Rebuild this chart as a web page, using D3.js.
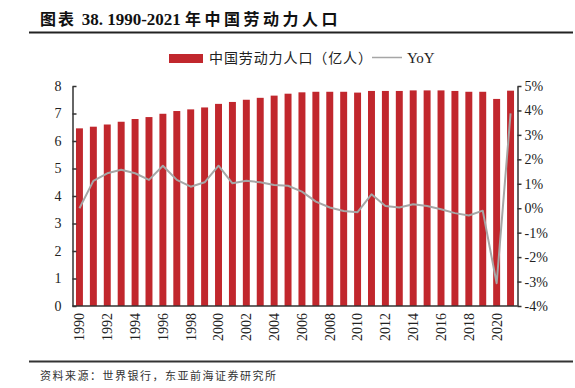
<!DOCTYPE html>
<html><head><meta charset="utf-8">
<script src="https://cdn.jsdelivr.net/npm/d3@7/dist/d3.min.js"></script>
<style>body{margin:0;background:#fff}svg{display:block}</style>
</head><body><svg id="c" width="575" height="388"></svg>
<script>
const years = d3.range(1990, 2022).map(String);
const labor = [6.46,6.52,6.60,6.70,6.80,6.87,6.99,7.09,7.15,7.22,7.35,7.42,7.50,7.57,7.65,7.72,
               7.77,7.79,7.79,7.79,7.76,7.82,7.82,7.82,7.84,7.84,7.84,7.82,7.79,7.79,7.53,7.83];
const yoy = [0.0,1.12,1.43,1.57,1.43,1.16,1.74,1.16,0.88,1.06,1.74,1.02,1.12,1.06,0.95,0.92,
             0.68,0.27,0.03,-0.11,-0.16,0.57,0.09,0.03,0.16,0.09,-0.04,-0.20,-0.30,-0.10,-3.07,3.88];
const leftTicks = [0,1,2,3,4,5,6,7,8];
const rightTicks = [-4,-3,-2,-1,0,1,2,3,4,5];
const xTickYears = years.filter((d,i)=>i%2===0 && +d<=2020);
const seriesNames = ["中国劳动力人口（亿人）","YoY"];
const source = "资料来源：世界银行，东亚前海证券研究所";

const svg = d3.select("#c");
const L = 72.5, R = 517.5, T = 86, B = 306;
const x = d3.scaleBand().domain(years).range([L, R]).paddingInner(0.5).paddingOuter(0.25);
const y = d3.scaleLinear().domain([0,8]).range([B, T]);
const y2 = d3.scaleLinear().domain([-4,5]).range([B, T]);
const serif = "'Liberation Serif','Times New Roman',serif";
const cjk = "'Noto Sans CJK SC','Noto Sans',sans-serif";

// title
const t = svg.append("text").attr("x", 40).attr("y", 25).attr("font-weight","bold").attr("font-size",16).attr("fill","#111");
t.append("tspan").attr("font-family", cjk).attr("letter-spacing",2).text("图表 ");
t.append("tspan").attr("font-family", serif).attr("font-size",17).text("38. 1990-2021 ");
t.append("tspan").attr("font-family", cjk).attr("letter-spacing",3.5).text("年中国劳动力人口");
svg.append("line").attr("x1",29).attr("x2",573).attr("y1",32.5).attr("y2",32.5).attr("stroke","#222").attr("stroke-width",2);

// legend
svg.append("rect").attr("x",169).attr("y",54).attr("width",34).attr("height",9).attr("fill","#C1272D");
svg.append("text").attr("x",209).attr("y",63).attr("font-family",cjk).attr("font-size",14).attr("letter-spacing",0.9).attr("fill","#222").text(seriesNames[0]);
svg.append("line").attr("x1",372).attr("x2",402).attr("y1",57.5).attr("y2",57.5).attr("stroke","#A6A6A6").attr("stroke-width",1.5);
svg.append("text").attr("x",407).attr("y",63).attr("font-family",serif).attr("font-size",15).attr("fill","#222").text(seriesNames[1]);

// bars
svg.append("g").selectAll("rect").data(years).join("rect")
  .attr("x", d=>x(d)).attr("width", x.bandwidth())
  .attr("y", (d,i)=>y(labor[i])).attr("height",(d,i)=>B - y(labor[i]))
  .attr("fill","#C1272D");

// line
const line = d3.line().x((d,i)=>x(years[i]) + x.bandwidth()/2).y(d=>y2(d));
svg.append("path").datum(yoy).attr("d", line).attr("fill","none").attr("stroke","#A6A6A6").attr("stroke-width",2).attr("stroke-linejoin","round");

// left axis
const gl = svg.append("g").attr("transform",`translate(${L},0)`)
  .call(d3.axisLeft(y).tickValues(leftTicks).tickSizeInner(-4).tickSizeOuter(0).tickPadding(11));
// right axis
const gr = svg.append("g").attr("transform",`translate(${R},0)`)
  .call(d3.axisRight(y2).tickValues(rightTicks).tickSizeInner(4).tickSizeOuter(0).tickPadding(3).tickFormat(d=>d+"%"));
// bottom axis
const gb = svg.append("g").attr("transform",`translate(0,${B})`)
  .call(d3.axisBottom(x).tickValues(xTickYears).tickSize(0).tickPadding(0));
gb.selectAll("text").attr("transform","rotate(-90)").attr("text-anchor","end").attr("x",-7).attr("y",0).attr("dy","0.35em");
gb.select(".domain").attr("d",`M${L},0H${R}`);
[gl,gr,gb].forEach(g=>{
  g.selectAll("text").attr("font-family",serif).attr("font-size",14).attr("fill","#222");
  g.selectAll("line,path").attr("stroke","#333").attr("stroke-width",1.5);
});

// footer
svg.append("line").attr("x1",29).attr("x2",573).attr("y1",361.5).attr("y2",361.5).attr("stroke","#333").attr("stroke-width",2);
svg.append("text").attr("x",40).attr("y",380).attr("font-family",cjk).attr("font-size",11).attr("fill","#333").attr("letter-spacing",1.5).text(source);
</script></body></html>
